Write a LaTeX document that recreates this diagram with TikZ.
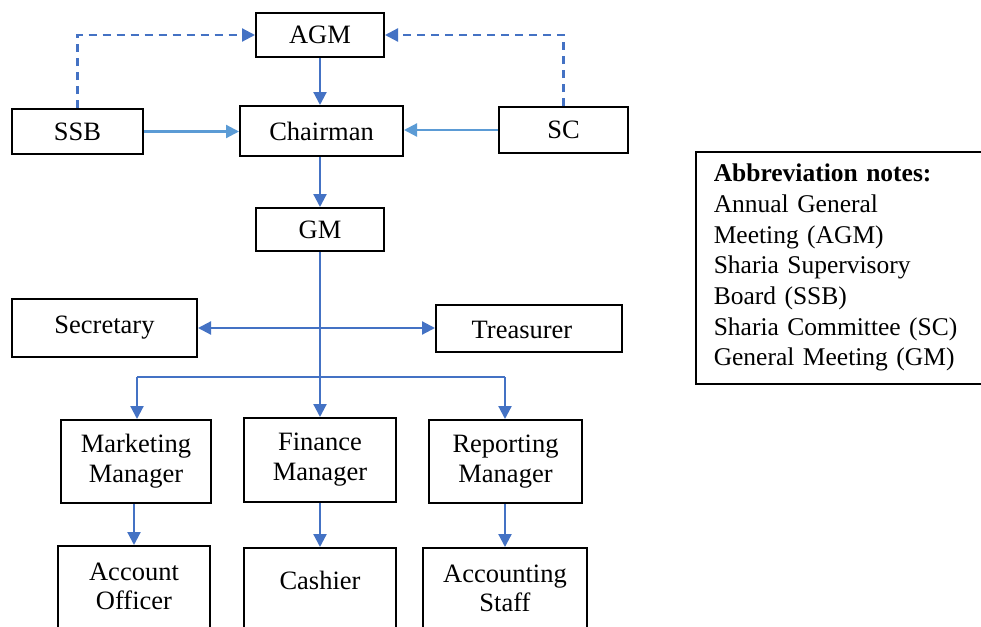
\documentclass[tikz,border=0pt]{standalone}
\usepackage{fontspec}
\setmainfont{Liberation Serif}
\usetikzlibrary{arrows.meta}
\definecolor{dblue}{HTML}{4472C4}
\definecolor{lblue}{HTML}{5B9BD5}
\begin{document}
\begin{tikzpicture}[x=1pt,y=-1pt,
  box/.style={draw=black,line width=2pt,inner sep=0pt,align=center,font=\fontsize{26.5}{30}\selectfont},
  txt/.style={inner sep=0pt,align=center,font=\fontsize{26.5}{29}\selectfont},
  arr/.style={draw=dblue,line width=2.2pt,-{Triangle[length=13pt,width=13pt]}},
  larr/.style={arr,draw=lblue,-{Triangle[length=13pt,width=13pt,fill=lblue]}},
  dasharr/.style={arr,dash pattern=on 8pt off 6pt},
  ln/.style={draw=dblue,line width=2.2pt}]
\clip (0,0) rectangle (981,626);
\fill[white] (0,0) rectangle (981,626);
% nodes
\node[box,minimum width=128pt,minimum height=44pt] (AGM) at (320,35) {AGM};
\node[box,minimum width=163pt,minimum height=50pt] (CH) at (321.5,131) {Chairman};
\node[box,minimum width=131pt,minimum height=45pt] (SSB) at (77.5,131.5) {SSB};
\node[box,minimum width=129pt,minimum height=46pt] (SC) at (563.5,130) {SC};
\node[box,minimum width=128pt,minimum height=43pt] (GM) at (320,229.5) {GM};
\node[box,minimum width=185pt,minimum height=58pt] (SEC) at (104.5,328) {Secretary};
\node[box,minimum width=186pt,minimum height=47pt] (TRE) at (529,328.5) {};
\node[txt] (TREt) at (522,330) {Treasurer};
\node[box,minimum width=150pt,minimum height=83pt] (MM) at (136,461.5) {Marketing\\Manager};
\node[box,minimum width=152pt,minimum height=84pt] (FM) at (320,460) {Finance\\Manager};
\node[box,minimum width=153pt,minimum height=83pt] (RM) at (505.5,461.5) {Reporting\\Manager};
\node[box,minimum width=152pt,minimum height=110pt] (AO) at (134,601) {};
\node[box,minimum width=152pt,minimum height=110pt] (CA) at (320,603) {};
\node[box,minimum width=164pt,minimum height=110pt] (AS) at (505,603) {};
\node[txt] (AOt) at (134,586) {Account\\Officer};
\node[txt] (CAt) at (320,580) {Cashier};
\node[txt] (ASt) at (505,588) {Accounting\\Staff};
% legend
\node[draw=black,line width=1.5pt,anchor=north west,minimum width=320pt,minimum height=232pt,
  inner xsep=18pt,inner ysep=10pt,align=left,text width=284pt,
  font=\fontsize{25.5}{30.7}\selectfont] (LEG) at (695,151)
  {\textbf{Abbreviation notes:}\\Annual General\\Meeting (AGM)\\Sharia Supervisory\\Board (SSB)\\Sharia Committee (SC)\\General Meeting (GM)};
% connectors
\draw[dasharr] (SSB.north) |- (AGM.west);
\draw[dasharr] (SC.north) |- (AGM.east);
\draw[arr] (AGM.south) -- (AGM.south |- CH.north);
\draw[larr] (SSB.east) -- (SSB.east -| CH.west);
\draw[larr] (SC.west) -- (SC.west -| CH.east);
\draw[arr] (CH.south -| GM.north) -- (GM.north);
\coordinate (busL) at (137,377);
\coordinate (busR) at (505,377);
\draw[ln] (GM.south) -- (GM.south |- busL);
\draw[ln] (busL) -- (busR);
\draw[arr,{Triangle[length=13pt,width=13pt]}-{Triangle[length=13pt,width=13pt]}] (SEC.east) -- (SEC.east -| TRE.west);
\draw[arr] (busL) -- (busL |- MM.north);
\draw[arr] (GM.south |- busL) -- (GM.south |- FM.north);
\draw[arr] (busR) -- (busR |- RM.north);
\draw[arr] (MM.south -| AO.north) -- (AO.north);
\draw[arr] (FM.south) -- (FM.south |- CA.north);
\draw[arr] (RM.south -| AS.north) -- (AS.north);
\end{tikzpicture}
\end{document}
